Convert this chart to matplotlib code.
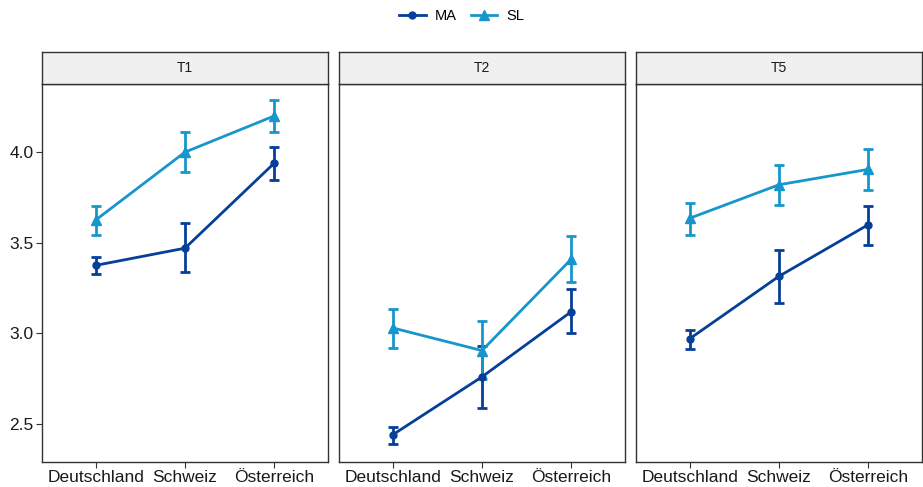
import numpy as np
import matplotlib.pyplot as plt
from matplotlib.lines import Line2D

plt.rcParams['font.family'] = ['Liberation Sans', 'DejaVu Sans']

# data
countries = ["Deutschland", "Schweiz", "Österreich"]
panels = ["T1", "T2", "T5"]

ma_mean = [[3.375, 3.47, 3.94], [2.44, 2.76, 3.12], [2.97, 3.315, 3.60]]
ma_low = [[3.33, 3.34, 3.845], [2.39, 2.59, 3.00], [2.915, 3.17, 3.49]]
ma_high = [[3.42, 3.61, 4.03], [2.485, 2.93, 3.245], [3.02, 3.46, 3.705]]

sl_mean = [[3.625, 4.00, 4.20], [3.03, 2.905, 3.41], [3.635, 3.82, 3.905]]
sl_low = [[3.54, 3.89, 4.11], [2.92, 2.75, 3.285], [3.54, 3.71, 3.79]]
sl_high = [[3.705, 4.11, 4.29], [3.135, 3.07, 3.535], [3.72, 3.93, 4.02]]

col_ma = "#053f98"
col_sl = "#1796cb"

W, H = 923, 487
fig = plt.figure(figsize=(W / 100, H / 100), dpi=100)

lefts = [42, 339, 636]
pw = 286
bottom, top, strip_top = 462, 84, 52

x = np.arange(len(countries))

for i, name in enumerate(panels):
    ax = fig.add_axes([lefts[i] / W, (H - bottom) / H, pw / W, (bottom - top) / H])
    sax = fig.add_axes([lefts[i] / W, (H - top) / H, pw / W, (top - strip_top) / H])
    sax.set_facecolor("#f0f0f0")
    sax.set_xticks([])
    sax.set_yticks([])
    for s in sax.spines.values():
        s.set_color("#333333")
        s.set_linewidth(1.0)
    sax.text(0.5, 0.5, name, ha="center", va="center", fontsize=10, color="#1a1a1a",
             transform=sax.transAxes)

    for mean, lo, hi, col, mk, ms in [(ma_mean[i], ma_low[i], ma_high[i], col_ma, "o", 5),
                                      (sl_mean[i], sl_low[i], sl_high[i], col_sl, "^", 6.5)]:
        mean = np.array(mean)
        yerr = [mean - np.array(lo), np.array(hi) - mean]
        ax.errorbar(x, mean, yerr=yerr, color=col, lw=2.0, marker=mk, ms=ms,
                    capsize=3.5, capthick=2.0, elinewidth=2.0)

    ax.set_xlim(-0.6, 2.6)
    ax.set_ylim(2.29, 4.376)
    ax.set_xticks(x)
    ax.set_xticklabels(countries, fontsize=12.5, color="#1a1a1a")
    ax.tick_params(axis="x", length=4, color="#333333", pad=2)
    if i == 0:
        ax.set_yticks([2.5, 3.0, 3.5, 4.0])
        ax.set_yticklabels(["2.5", "3.0", "3.5", "4.0"], fontsize=12.5, color="#1a1a1a")
        ax.tick_params(axis="y", length=4, color="#333333", pad=2)
    else:
        ax.set_yticks([])
    for s in ax.spines.values():
        s.set_color("#333333")
        s.set_linewidth(1.0)

handles = [Line2D([], [], color=col_ma, lw=2.0, marker="o", ms=5),
           Line2D([], [], color=col_sl, lw=2.0, marker="^", ms=6.5)]
fig.legend(handles, ["MA", "SL"], loc="center", bbox_to_anchor=(0.5, 1 - 16 / H),
           ncol=2, frameon=False, fontsize=10.5, handlelength=1.8, columnspacing=1.0,
           handletextpad=0.6)

fig.savefig("out.png", dpi=100)
